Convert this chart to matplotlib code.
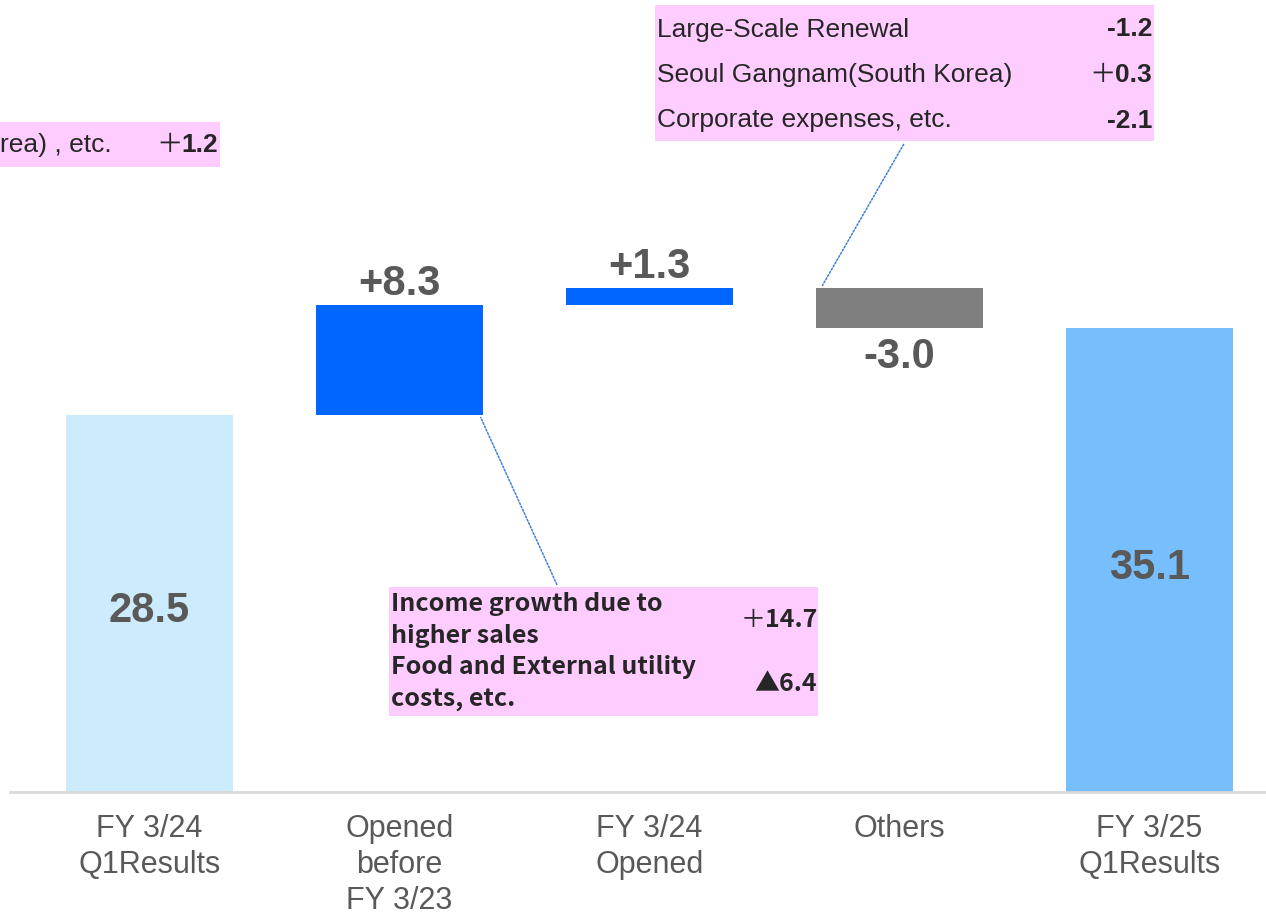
import numpy as np
import matplotlib
matplotlib.use('Agg')
from matplotlib import pyplot as plt
from matplotlib.patches import Rectangle

plt.rcParams['font.family'] = ['Liberation Sans', 'DejaVu Sans']

categories = ['FY 3/24\nQ1Results', 'Opened\nbefore\nFY 3/23', 'FY 3/24\nOpened',
              'Others', 'FY 3/25\nQ1Results']
start_value = 28.5
deltas = [8.3, 1.3, -3.0]
end_value = 35.1
value_labels = ['28.5', '+8.3', '+1.3', '-3.0', '35.1']
colors = ['#CCEBFD', '#0066FF', '#0066FF', '#7F7F7F', '#77BEFD']

left_note = [('rea) , etc.', '＋', '1.2')]
right_note = [('Large-Scale Renewal', '', '-1.2'),
              ('Seoul Gangnam(South Korea)', '＋', '0.3'),
              ('Corporate expenses, etc.', '', '-2.1')]
bottom_note_lines = ['Income growth due to', 'higher sales',
                     'Food and External utility', 'costs, etc.']
bottom_note_values = [('＋', '14.7'), ('', '▲6.4')]

W, H = 1266, 916
fig = plt.figure(figsize=(W / 100, H / 100), dpi=100)
ax = fig.add_axes([10 / W, (H - 792) / H, 1256 / W, 792 / H])
renderer = fig.canvas.get_renderer()

# waterfall geometry
cum = start_value + np.cumsum(deltas)
prev = np.concatenate([[start_value], cum[:-1]])
bottoms = [0] + list(np.minimum(prev, cum)) + [0]
heights = [start_value] + list(np.abs(deltas)) + [end_value]
x = np.arange(len(categories))
BW = 0.668
ax.bar(x, heights, bottom=bottoms, width=BW, color=colors)

LABEL_COLOR = '#595959'
for i in range(len(x)):
    if i == 0 or i == len(x) - 1:
        ax.text(x[i], bottoms[i] + heights[i] / 2 - 0.6, value_labels[i], ha='center',
                va='center', fontsize=30, fontweight='bold', color=LABEL_COLOR)
    elif deltas[i - 1] >= 0:
        ax.text(x[i], bottoms[i] + heights[i] + 0.05, value_labels[i], ha='center',
                va='bottom', fontsize=30, fontweight='bold', color=LABEL_COLOR)
    else:
        ax.text(x[i], bottoms[i] - 0.7, value_labels[i], ha='center',
                va='top', fontsize=30, fontweight='bold', color=LABEL_COLOR)

ax.set_xlim(-0.558, 4.466)
ax.set_ylim(0, 792 / 13.23)
ax.set_xticks(x)
ax.set_xticklabels(categories, fontsize=22, color=LABEL_COLOR, linespacing=1.25)
ax.tick_params(axis='x', length=0, pad=16)
ax.set_yticks([])
for s in ['top', 'left', 'right']:
    ax.spines[s].set_visible(False)
ax.spines['bottom'].set_color('#D9D9D9')
ax.spines['bottom'].set_linewidth(2)


def px(xp, yp):
    # pixel from top-left -> figure pixels from bottom-left
    return (xp, H - yp)


def box(x0, y0, x1, y1):
    fig.patches.append(Rectangle((x0 / W, (H - y1) / H), (x1 - x0) / W, (y1 - y0) / H,
                                 transform=fig.transFigure, facecolor='#FFCCFF',
                                 edgecolor='none', zorder=0))


def value(xr, yc, sign, num, fs, fam):
    # bold number right-aligned, thin full-width plus in front of it
    t = fig.text(xr / W, (H - yc) / H, num, ha='right', va='center', fontsize=fs,
                 color=TXT, fontweight='bold', family=fam)
    if sign:
        bb = t.get_window_extent(renderer)
        fig.text((bb.x0 + 1) / W, (H - yc) / H, sign, ha='right', va='center', fontsize=fs,
                 color=TXT, family=['Noto Sans CJK JP', 'DejaVu Sans'])


TXT = '#262626'
PINK_FS = 19
SANS = ['Liberation Sans', 'DejaVu Sans']
JP = ['Noto Sans CJK JP', 'DejaVu Sans']

# top-left note
box(0, 122, 220, 167)
for label, sign, num in left_note:
    fig.text(0 / W, (H - 145) / H, label, ha='left', va='center', fontsize=PINK_FS, color=TXT)
    value(218, 145, sign, num, PINK_FS, SANS)

# top-right note
box(655, 5, 1154, 141)
for k, (label, sign, num) in enumerate(right_note):
    yc = 29.5 + 45.5 * k
    fig.text(657 / W, (H - yc) / H, label, ha='left', va='center', fontsize=PINK_FS, color=TXT)
    value(1152, yc, sign, num, PINK_FS, SANS)

# bottom note
box(389, 587, 818, 716)
for k, line in enumerate(bottom_note_lines):
    yc = 604 + 31.7 * k
    fig.text(391 / W, (H - yc) / H, line, ha='left', va='center', fontsize=18,
             color=TXT, fontweight='bold', family=JP)
for k, (sign, num) in enumerate(bottom_note_values):
    value(817, 620 + 64 * k, sign, num, 18, JP)

# dotted connectors
line_kw = dict(arrowstyle='-', linestyle=(0, (1.2, 1.2)), color='#3C7FD9', linewidth=1.1)
ax.annotate('', xy=(1 + 0.32, bottoms[1]), xycoords='data',
            xytext=px(558, 587), textcoords='figure pixels', arrowprops=line_kw)
ax.annotate('', xy=(3 - 0.314, bottoms[3] + heights[3]), xycoords='data',
            xytext=px(905, 142), textcoords='figure pixels', arrowprops=line_kw)

fig.savefig('out.png', dpi=100)
